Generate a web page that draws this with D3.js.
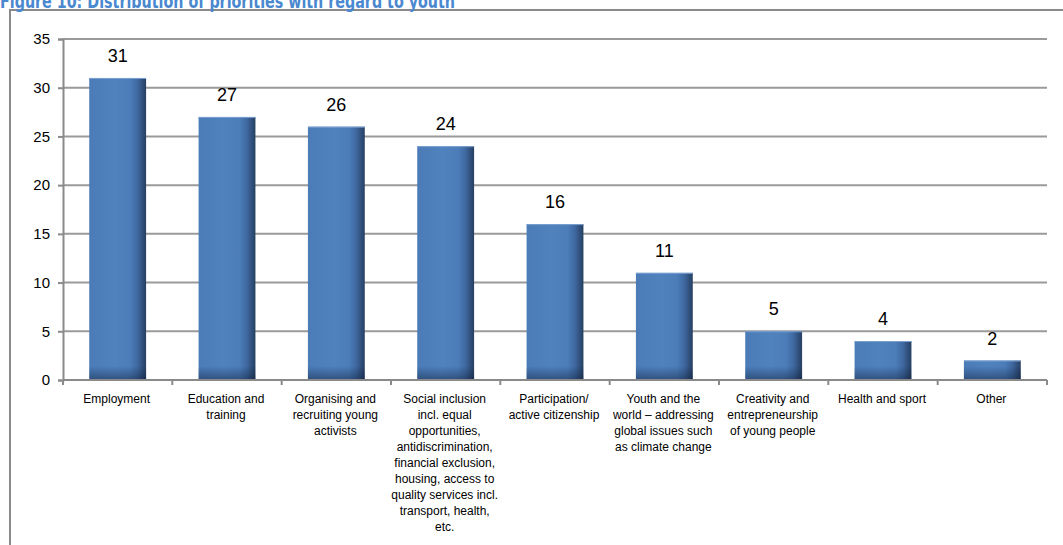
<!DOCTYPE html>
<html>
<head>
<meta charset="utf-8">
<script src="https://cdn.jsdelivr.net/npm/d3@7"></script>
<style>
  html, body { margin: 0; padding: 0; background: #fff; }
  svg { display: block; }
</style>
</head>
<body>
<svg id="chart" width="1063" height="545"></svg>
<script>
const titleText = "Figure 10: Distribution of priorities with regard to youth";
const categories = [
  ["Employment"],
  ["Education and", "training"],
  ["Organising and", "recruiting young", "activists"],
  ["Social inclusion", "incl. equal", "opportunities,", "antidiscrimination,", "financial exclusion,", "housing, access to", "quality services incl.", "transport, health,", "etc."],
  ["Participation/", "active citizenship"],
  ["Youth and the", "world \u2013 addressing", "global issues such", "as climate change"],
  ["Creativity and", "entrepreneurship", "of young people"],
  ["Health and sport"],
  ["Other"]
];
const values = [31, 27, 26, 24, 16, 11, 5, 4, 2];
const yTicks = [0, 5, 10, 15, 20, 25, 30, 35];

(function () {
const svg = d3.select("#chart");
const font = "'Liberation Sans', Arial, sans-serif";

const defs = svg.append("defs");
const hg = defs.append("linearGradient").attr("id", "barH").attr("x1", "0").attr("x2", "1").attr("y1", "0").attr("y2", "0");
[["0%", "#4b7cb8"], ["45%", "#5082be"], ["72%", "#4c7db9"], ["85%", "#3f68a0"], ["100%", "#263f62"]]
  .forEach(([o, c]) => hg.append("stop").attr("offset", o).attr("stop-color", c));

// frame
svg.append("path").attr("d", "M10,545 V10 H1063")
  .attr("fill", "none").attr("stroke", "#8a8a8a").attr("stroke-width", 2);

// title (cut off at top, as in the reference)
svg.append("text").attr("x", 0).attr("y", 8)
  .attr("font-family", "'DejaVu Sans', sans-serif").attr("font-weight", "bold")
  .attr("font-size", 19).attr("fill", "#4a88cf")
  .attr("textLength", 455).attr("lengthAdjust", "spacingAndGlyphs")
  .text(titleText);

const pLeft = 63, pRight = 1047, pTop = 39, pBottom = 380;
const y = d3.scaleLinear().domain([0, 35]).range([pBottom, pTop]);
const x = d3.scaleBand().domain(d3.range(categories.length)).range([pLeft, pRight])
  .paddingInner(0.48).paddingOuter(0.24);

const vg = defs.append("linearGradient").attr("id", "barV").attr("gradientUnits", "userSpaceOnUse")
  .attr("x1", 0).attr("x2", 0).attr("y1", pBottom - 14).attr("y2", pBottom);
vg.append("stop").attr("offset", "0%").attr("stop-color", "#0a1830").attr("stop-opacity", 0);
vg.append("stop").attr("offset", "100%").attr("stop-color", "#0a1830").attr("stop-opacity", 0.45);

// gridlines
svg.append("g").selectAll("line").data(yTicks.filter(d => d > 0)).join("line")
  .attr("x1", pLeft).attr("x2", pRight).attr("y1", d => y(d)).attr("y2", d => y(d))
  .attr("stroke", "#9a9a9a").attr("stroke-width", 2);

// y axis
const yAxis = svg.append("g").attr("transform", `translate(${pLeft},0)`)
  .call(d3.axisLeft(y).tickValues(yTicks).tickSize(5).tickPadding(8));
yAxis.select(".domain").attr("stroke", "#8a8a8a").attr("stroke-width", 2);
yAxis.selectAll(".tick line").attr("stroke", "#8a8a8a").attr("stroke-width", 2);
yAxis.selectAll(".tick text").attr("font-family", font).attr("font-size", 15).attr("fill", "#000");

// bars
const bars = svg.append("g");
bars.selectAll("rect.b").data(values).join("rect").attr("class", "b")
  .attr("x", (d, i) => x(i)).attr("width", x.bandwidth())
  .attr("y", d => y(d)).attr("height", d => pBottom - y(d))
  .attr("fill", "url(#barH)");
bars.selectAll("rect.s").data(values).join("rect").attr("class", "s")
  .attr("x", (d, i) => x(i)).attr("width", x.bandwidth())
  .attr("y", d => y(d)).attr("height", d => pBottom - y(d))
  .attr("fill", "url(#barV)");
bars.selectAll("line.t").data(values).join("line").attr("class", "t")
  .attr("x1", (d, i) => x(i)).attr("x2", (d, i) => x(i) + x.bandwidth())
  .attr("y1", d => y(d) + 0.5).attr("y2", d => y(d) + 0.5)
  .attr("stroke", "#7aa0d0").attr("stroke-width", 1);

// x axis
svg.append("line").attr("x1", pLeft).attr("x2", pRight).attr("y1", pBottom).attr("y2", pBottom)
  .attr("stroke", "#8a8a8a").attr("stroke-width", 2);
const bounds = d3.range(categories.length + 1).map(i => pLeft + i * x.step());
svg.append("g").selectAll("line").data(bounds).join("line")
  .attr("x1", d => d).attr("x2", d => d).attr("y1", pBottom).attr("y2", pBottom + 5)
  .attr("stroke", "#8a8a8a").attr("stroke-width", 2);

// category labels
const cx = i => x(i) + x.bandwidth() / 2;
const lab = svg.append("g").attr("font-family", font).attr("font-size", 12).attr("fill", "#000").attr("text-anchor", "middle");
categories.forEach((lines, i) => {
  const t = lab.append("text").attr("x", cx(i) - 1).attr("y", 403);
  lines.forEach((l, j) => t.append("tspan").attr("x", cx(i) - 1).attr("dy", j === 0 ? 0 : 16).text(l));
});

// data labels
svg.append("g").selectAll("text").data(values).join("text")
  .attr("x", (d, i) => cx(i)).attr("y", d => y(d) - 16)
  .attr("text-anchor", "middle").attr("font-family", font).attr("font-size", 18).attr("fill", "#000")
  .text(d => d);
})();
</script>
</body>
</html>
